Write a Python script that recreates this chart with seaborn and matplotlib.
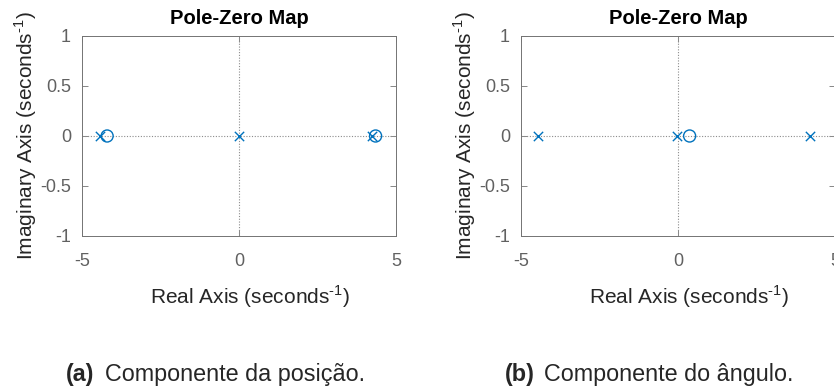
import matplotlib
matplotlib.use("Agg")
import matplotlib.pyplot as plt
import seaborn as sns
import pandas as pd

# Data
poles_a = [-4.42, 0.0, 4.25]
zeros_a = [-4.2, 4.35]
poles_b = [-4.46, -0.02, 4.19]
zeros_b = [0.37]
titles = ["Pole-Zero Map", "Pole-Zero Map"]
caption_tags = ["(a)", "(b)"]
caption_texts = ["Componente da posição.", "Componente do ângulo."]
xticks = [-5, 0, 5]
xticklabels = ["-5", "0", "5"]
yticks = [-1, -0.5, 0, 0.5, 1]
yticklabels = ["-1", "-0.5", "0", "0.5", "1"]

sns.set_style("white")
plt.rcParams['font.family'] = ['Liberation Sans', 'DejaVu Sans']
plt.rcParams['mathtext.fontset'] = 'custom'
plt.rcParams['mathtext.rm'] = 'Liberation Sans'
plt.rcParams['axes.unicode_minus'] = False

blue = (0.0, 0.447, 0.741)
dark = (0.15, 0.15, 0.15)
tick_grey = (0.38, 0.38, 0.38)
spine_c = (0.45, 0.45, 0.45)

fig = plt.figure(figsize=(8.34, 3.89), dpi=100)
W, H = 834, 389
ax_boxes = [(82, 36, 314, 200), (521, 36, 314, 200)]
datasets = [(poles_a, zeros_a), (poles_b, zeros_b)]

for i, ((l, t, w, h), (poles, zeros)) in enumerate(zip(ax_boxes, datasets)):
    ax = fig.add_axes([l / W, 1 - (t + h) / H, w / W, h / H])
    ax.axhline(0, color=(0.55, 0.55, 0.55), lw=0.8, ls=(0, (1, 1.5)), zorder=1)
    ax.axvline(0, color=(0.55, 0.55, 0.55), lw=0.8, ls=(0, (1, 1.5)), zorder=1)
    dp = pd.DataFrame({"re": poles, "im": [0.0] * len(poles)})
    dz = pd.DataFrame({"re": zeros, "im": [0.0] * len(zeros)})
    sns.scatterplot(data=dp, x="re", y="im", ax=ax, marker="x", s=45,
                    color=blue, linewidth=1.0, zorder=3)
    sns.scatterplot(data=dz, x="re", y="im", ax=ax, marker="o", s=75,
                    facecolors="none", edgecolor=blue, linewidth=1.0, zorder=3)
    ax.set_xlim(-5, 5)
    ax.set_ylim(-1, 1)
    ax.set_xticks(xticks)
    ax.set_xticklabels(xticklabels)
    ax.set_yticks(yticks)
    ax.set_yticklabels(yticklabels)
    ax.tick_params(direction="in", length=4, width=0.6, colors=spine_c,
                   labelcolor=tick_grey, labelsize=13, top=True, right=True,
                   bottom=True, left=True)
    ax.tick_params(axis="x", pad=12)
    ax.tick_params(axis="y", pad=8)
    for s in ax.spines.values():
        s.set_color(spine_c)
        s.set_linewidth(0.7)
    ax.set_title(titles[i], fontsize=14.5, fontweight="bold", pad=9, color="black")
    ax.set_xlabel(r"Real Axis (seconds$^{\text{-1}}$)", fontsize=15, color=dark)
    ax.set_ylabel(r"Imaginary Axis (seconds$^{\text{-1}}$)", fontsize=15, color=dark, labelpad=1)
    ax.xaxis.set_label_coords(0.535, -0.305)
    ax.xaxis.label.set_va("center")

cap_x = [66, 505]
cap_y = 1 - 375 / H
for i in range(2):
    fig.text(cap_x[i] / W, cap_y, caption_tags[i], fontsize=16.8,
             fontweight="bold", va="center", ha="left")
    fig.text((cap_x[i] + 39) / W, cap_y, caption_texts[i], fontsize=16.8,
             va="center", ha="left")

fig.savefig("out.png", dpi=100)
